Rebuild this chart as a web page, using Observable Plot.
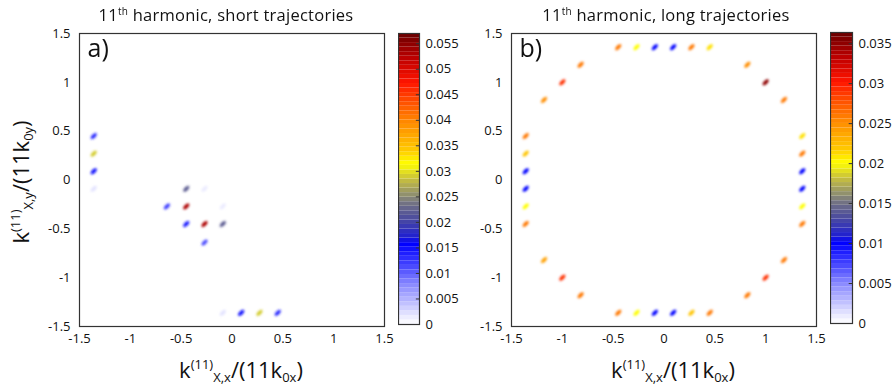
<!DOCTYPE html>
<html><head><meta charset="utf-8">
<script src="https://cdn.jsdelivr.net/npm/d3@7"></script>
<script src="https://cdn.jsdelivr.net/npm/@observablehq/plot@0.6"></script>
<style>
body{margin:0;background:#fff;}
#wrap{position:relative;width:894px;height:386px;overflow:hidden;font-family:"Open Sans",sans-serif;color:#111;}
.abs{position:absolute;white-space:nowrap;line-height:1;}
.title{font-size:16.5px;letter-spacing:0.25px;transform:translateX(-50%);}
.title sup{font-size:10px;vertical-align:6px;}
.lab{font-size:22px;transform:translateX(-50%);}
.lab sup{font-size:13px;vertical-align:9px;}
.lab sub{font-size:13px;vertical-align:-4px;}
.ylab{transform:translate(-50%,-50%) rotate(-90deg);}
#wrap svg{position:absolute;top:0;background:transparent;}
</style>
</head><body>
<div id="wrap"></div>
<script>
// ---- data ----
const axisTicks = [-1.5, -1, -0.5, 0, 0.5, 1, 1.5];

// short trajectories (panel a)
const shortKx = [-1.36, -1.36, -1.36, -1.36, -0.09, 0.09, 0.27, 0.45, -0.45, -0.27, -0.64, -0.45, -0.09, -0.45, -0.27, -0.09, -0.27];
const shortKy = [0.45, 0.27, 0.09, -0.09, -1.36, -1.36, -1.36, -1.36, -0.09, -0.09, -0.27, -0.27, -0.27, -0.45, -0.45, -0.45, -0.64];
const shortI  = [0.013, 0.029, 0.015, 0.002, 0.002, 0.015, 0.029, 0.013, 0.022, 0.0015, 0.012, 0.053, 0.0015, 0.014, 0.053, 0.022, 0.011];

// long trajectories (panel b)
const longKx = [-0.45, -0.27, -0.09, 0.09, 0.27, 0.45,
                -0.45, -0.27, -0.09, 0.09, 0.27, 0.45,
                -1.36, -1.36, -1.36, -1.36, -1.36, -1.36,
                 1.36, 1.36, 1.36, 1.36, 1.36, 1.36,
                -1.18, -1.0, -0.82, 0.82, 1.0, 1.18,
                -1.18, -1.0, -0.82, 0.82, 1.0, 1.18];
const longKy = [1.36, 1.36, 1.36, 1.36, 1.36, 1.36,
                -1.36, -1.36, -1.36, -1.36, -1.36, -1.36,
                0.45, 0.27, 0.09, -0.09, -0.27, -0.45,
                0.45, 0.27, 0.09, -0.09, -0.27, -0.45,
                0.82, 1.0, 1.18, 1.18, 1.0, 0.82,
                -0.82, -1.0, -1.18, -1.18, -1.0, -0.82];
const longI  = [0.026, 0.020, 0.010, 0.010, 0.026, 0.021,
                0.026, 0.020, 0.010, 0.010, 0.022, 0.026,
                0.026, 0.022, 0.010, 0.010, 0.020, 0.026,
                0.021, 0.026, 0.010, 0.010, 0.020, 0.026,
                0.025, 0.029, 0.026, 0.025, 0.035, 0.026,
                0.024, 0.029, 0.026, 0.026, 0.029, 0.026];

const shortBarTicks = [0, 0.005, 0.01, 0.015, 0.02, 0.025, 0.03, 0.035, 0.04, 0.045, 0.05, 0.055];
const longBarTicks  = [0, 0.005, 0.01, 0.015, 0.02, 0.025, 0.03, 0.035];
const shortMax = 0.057, longMax = 0.0364;

// colormap (relative position -> colour), as seen on the colour bars
const cmapStops = [0, 0.03, 0.08, 0.14, 0.19, 0.275, 0.30, 0.36, 0.41, 0.44, 0.495, 0.55, 0.60, 0.69, 0.77, 0.83, 0.91, 1];
const cmapColors = ["#ffffff", "#e8e8ff", "#b8b8ff", "#8686ff", "#5050ff", "#0000ff", "#2020d0", "#4a4aa0", "#6e6e86", "#8c8c72", "#c4bc40", "#ffff00", "#ffc800", "#ff8c00", "#ff4a00", "#ff1400", "#c00000", "#6a0000"];
const cmap = d3.scaleLinear().domain(cmapStops).range(cmapColors).interpolate(d3.interpolateRgb).clamp(true);

// ---- helpers ----
const slantedBlob = {
  draw(ctx) {
    const a = 3.9, b = 1.9, n = 28, c = Math.SQRT1_2;
    for (let i = 0; i <= n; i++) {
      const t = 2 * Math.PI * i / n, ex = a * Math.cos(t), ey = b * Math.sin(t);
      const x = c * (ex + ey), y = c * (-ex + ey);
      i ? ctx.lineTo(x, y) : ctx.moveTo(x, y);
    }
    ctx.closePath();
  }
};

const wrap = document.getElementById("wrap");
function place(el, left) { el.style.left = left + "px"; wrap.appendChild(el); }
function blur(svg, id, sd) {
  const ns = "http://www.w3.org/2000/svg";
  const defs = document.createElementNS(ns, "defs");
  defs.innerHTML = `<filter id="${id}" x="-80%" y="-80%" width="260%" height="260%"><feGaussianBlur stdDeviation="${sd}"/></filter>`;
  svg.insertBefore(defs, svg.firstChild);
  svg.querySelectorAll('g[aria-label="dot"]').forEach(g => g.setAttribute("filter", `url(#${id})`));
}

function panel(kx, ky, I, max, label, mLeft, plotW) {
  const data = kx.map((x, i) => ({x, y: ky[i], v: I[i]}));
  return Plot.plot({
    width: mLeft + plotW + 16, height: 386,
    marginLeft: mLeft, marginRight: 16, marginTop: 33, marginBottom: 60,
    style: {fontFamily: "Open Sans, sans-serif", fontSize: "13px", color: "#111", background: "transparent"},
    x: {domain: [-1.5, 1.5], ticks: axisTicks, tickFormat: d => String(d), tickSize: 0, tickPadding: 7, label: null},
    y: {domain: [-1.5, 1.5], ticks: axisTicks, tickFormat: d => String(d), tickSize: 0, tickPadding: 9, label: null},
    color: {type: "linear", domain: [0, max], interpolate: () => t => cmap(t)},
    marks: [
      Plot.dot(data, {x: "x", y: "y", fill: "v", symbol: slantedBlob, r: 3}),
      Plot.frame({stroke: "#333", strokeWidth: 1.2}),
      Plot.text([label], {frameAnchor: "top-left", dx: 8, dy: 6, fontSize: 25, textAnchor: "start", lineAnchor: "top"})
    ]
  });
}

function colorbar(max, ticks, barW) {
  const n = 64;
  const bands = d3.range(n).map(i => ({y1: i * max / n, y2: (i + 1) * max / n, v: (i + 0.5) * max / n}));
  return Plot.plot({
    width: barW + 46, height: 386,
    marginLeft: 0, marginRight: 46, marginTop: 33, marginBottom: 62,
    style: {fontFamily: "Open Sans, sans-serif", fontSize: "13px", color: "#111", background: "transparent"},
    x: {domain: [0, 1], axis: null},
    y: {domain: [0, max], axis: "right", ticks, tickFormat: d => String(d), tickSize: 0, tickPadding: 6, label: null},
    color: {type: "linear", domain: [0, max], interpolate: () => t => cmap(t)},
    marks: [
      Plot.rect(bands, {x1: 0, x2: 1, y1: "y1", y2: "y2", fill: "v"}),
      Plot.ruleY(ticks, {x1: 0.85, x2: 1, stroke: "#333"}),
      Plot.frame({stroke: "#333", strokeWidth: 1.2})
    ]
  });
}

const pa = panel(shortKx, shortKy, shortI, shortMax, "a)", 79, 305);
place(pa, 0); blur(pa, "blurA", 1.0);
const ca = colorbar(shortMax, shortBarTicks, 21);
place(ca, 398);
const pb = panel(longKx, longKy, longI, longMax, "b)", 45, 305);
place(pb, 466); blur(pb, "blurB", 1.0);
const cb = colorbar(longMax, longBarTicks, 22);
cb.style.top = "-1px";
place(cb, 830);

function html(cls, inner, left, top) {
  const d = document.createElement("div");
  d.className = "abs " + cls; d.innerHTML = inner;
  d.style.left = left + "px"; d.style.top = top + "px";
  wrap.appendChild(d);
}
html("title", "11<sup>th</sup> harmonic, short trajectories", 226, 6);
html("title", "11<sup>th</sup> harmonic, long trajectories", 666, 6);
html("lab", "k<sup>(11)</sup><sub>X,x</sub>/(11k<sub>0x</sub>)", 241, 358);
html("lab", "k<sup>(11)</sup><sub>X,x</sub>/(11k<sub>0x</sub>)", 673, 358);
html("lab ylab", "k<sup>(11)</sup><sub>X,y</sub>/(11k<sub>0y</sub>)", 22, 182);
</script>
</body></html>
